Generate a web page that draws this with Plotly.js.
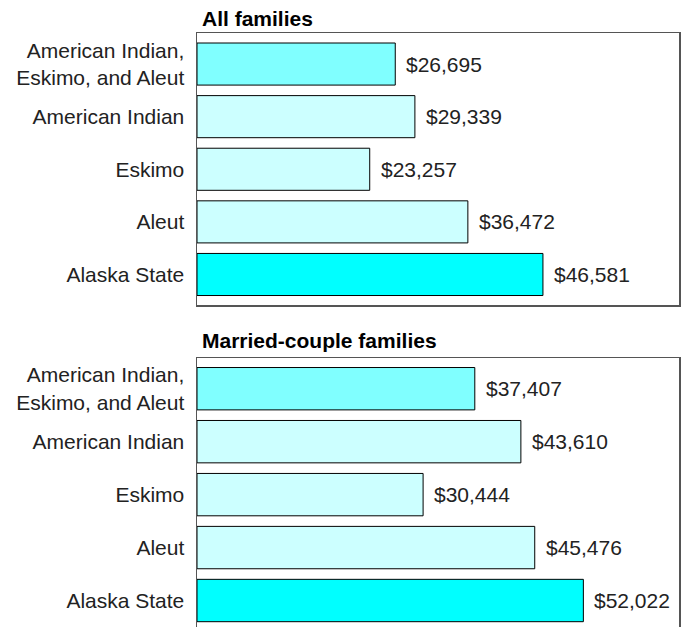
<!DOCTYPE html>
<html><head><meta charset="utf-8">
<script src="https://cdn.plot.ly/plotly-3.0.1.min.js"></script>
<style>html,body{margin:0;padding:0;background:#fff}#chart{width:682px;height:627px}</style>
</head><body><div id="chart"></div>
<script>
const categories = ["American Indian,<br>Eskimo, and Aleut", "American Indian", "Eskimo", "Aleut", "Alaska State"];
const allFamilies = [26695, 29339, 23257, 36472, 46581];
const marriedCouple = [37407, 43610, 30444, 45476, 52022];
const panelTitles = ["All families", "Married-couple families"];
const barColors = ["#80FFFF", "#CCFFFF", "#CCFFFF", "#CCFFFF", "#00FFFF"];

const fmt = v => "$" + v.toLocaleString("en-US");
const font = {family: "Liberation Sans, Arial, sans-serif", size: 21, color: "#222"};

function barTrace(vals, xa, ya) {
  return {type: "bar", orientation: "h", x: vals, y: categories, xaxis: xa, yaxis: ya,
    marker: {color: barColors, line: {color: "#000", width: 1}}, hoverinfo: "none", showlegend: false};
}
function labels(vals, xr, yr) {
  return vals.map((v, i) => ({x: v, y: categories[i], xref: xr, yref: yr, text: fmt(v),
    showarrow: false, xanchor: "left", xshift: 9, font: font}));
}
const xcommon = {range: [0, 64900], showgrid: false, zeroline: false, showticklabels: false, ticks: "", fixedrange: true};
const ycommon = {type: "category", showgrid: false, zeroline: false, ticks: "outside", ticklen: 7,
  tickcolor: "rgba(0,0,0,0)", tickfont: font, showline: true, mirror: true, linecolor: "#555", linewidth: 1.5};
const titleFont = {family: "Liberation Sans, Arial, sans-serif", size: 21, color: "#000"};

const layout = {
  width: 682, height: 627, margin: {l: 197, r: 3, t: 0, b: 0},
  paper_bgcolor: "#fff", plot_bgcolor: "#fff", bargap: 0.2, font: font,
  xaxis: Object.assign({}, xcommon, {domain: [0, 1], anchor: "y", showline: true, mirror: true, linecolor: "#555", linewidth: 1.5}),
  yaxis: Object.assign({}, ycommon, {domain: [1 - 305/627, 1 - 33/627], range: [4.58, -0.59], anchor: "x"}),
  xaxis2: Object.assign({}, xcommon, {domain: [0, 1], anchor: "y2", side: "top", showline: true, mirror: false, linecolor: "#555", linewidth: 1.5}),
  yaxis2: Object.assign({}, ycommon, {domain: [0, 1 - 358/627], range: [4.50, -0.58], anchor: "x2"}),
  annotations: [
    {text: "<b>" + panelTitles[0] + "</b>", xref: "paper", yref: "paper", x: 3/482, y: 1 - 18/627,
     xanchor: "left", yanchor: "middle", showarrow: false, font: titleFont},
    {text: "<b>" + panelTitles[1] + "</b>", xref: "paper", yref: "paper", x: 3/482, y: 1 - 340/627,
     xanchor: "left", yanchor: "middle", showarrow: false, font: titleFont}
  ].concat(labels(allFamilies, "x", "y"), labels(marriedCouple, "x2", "y2"))
};
Plotly.newPlot("chart", [barTrace(allFamilies, "x", "y"), barTrace(marriedCouple, "x2", "y2")], layout, {staticPlot: true});
</script></body></html>
